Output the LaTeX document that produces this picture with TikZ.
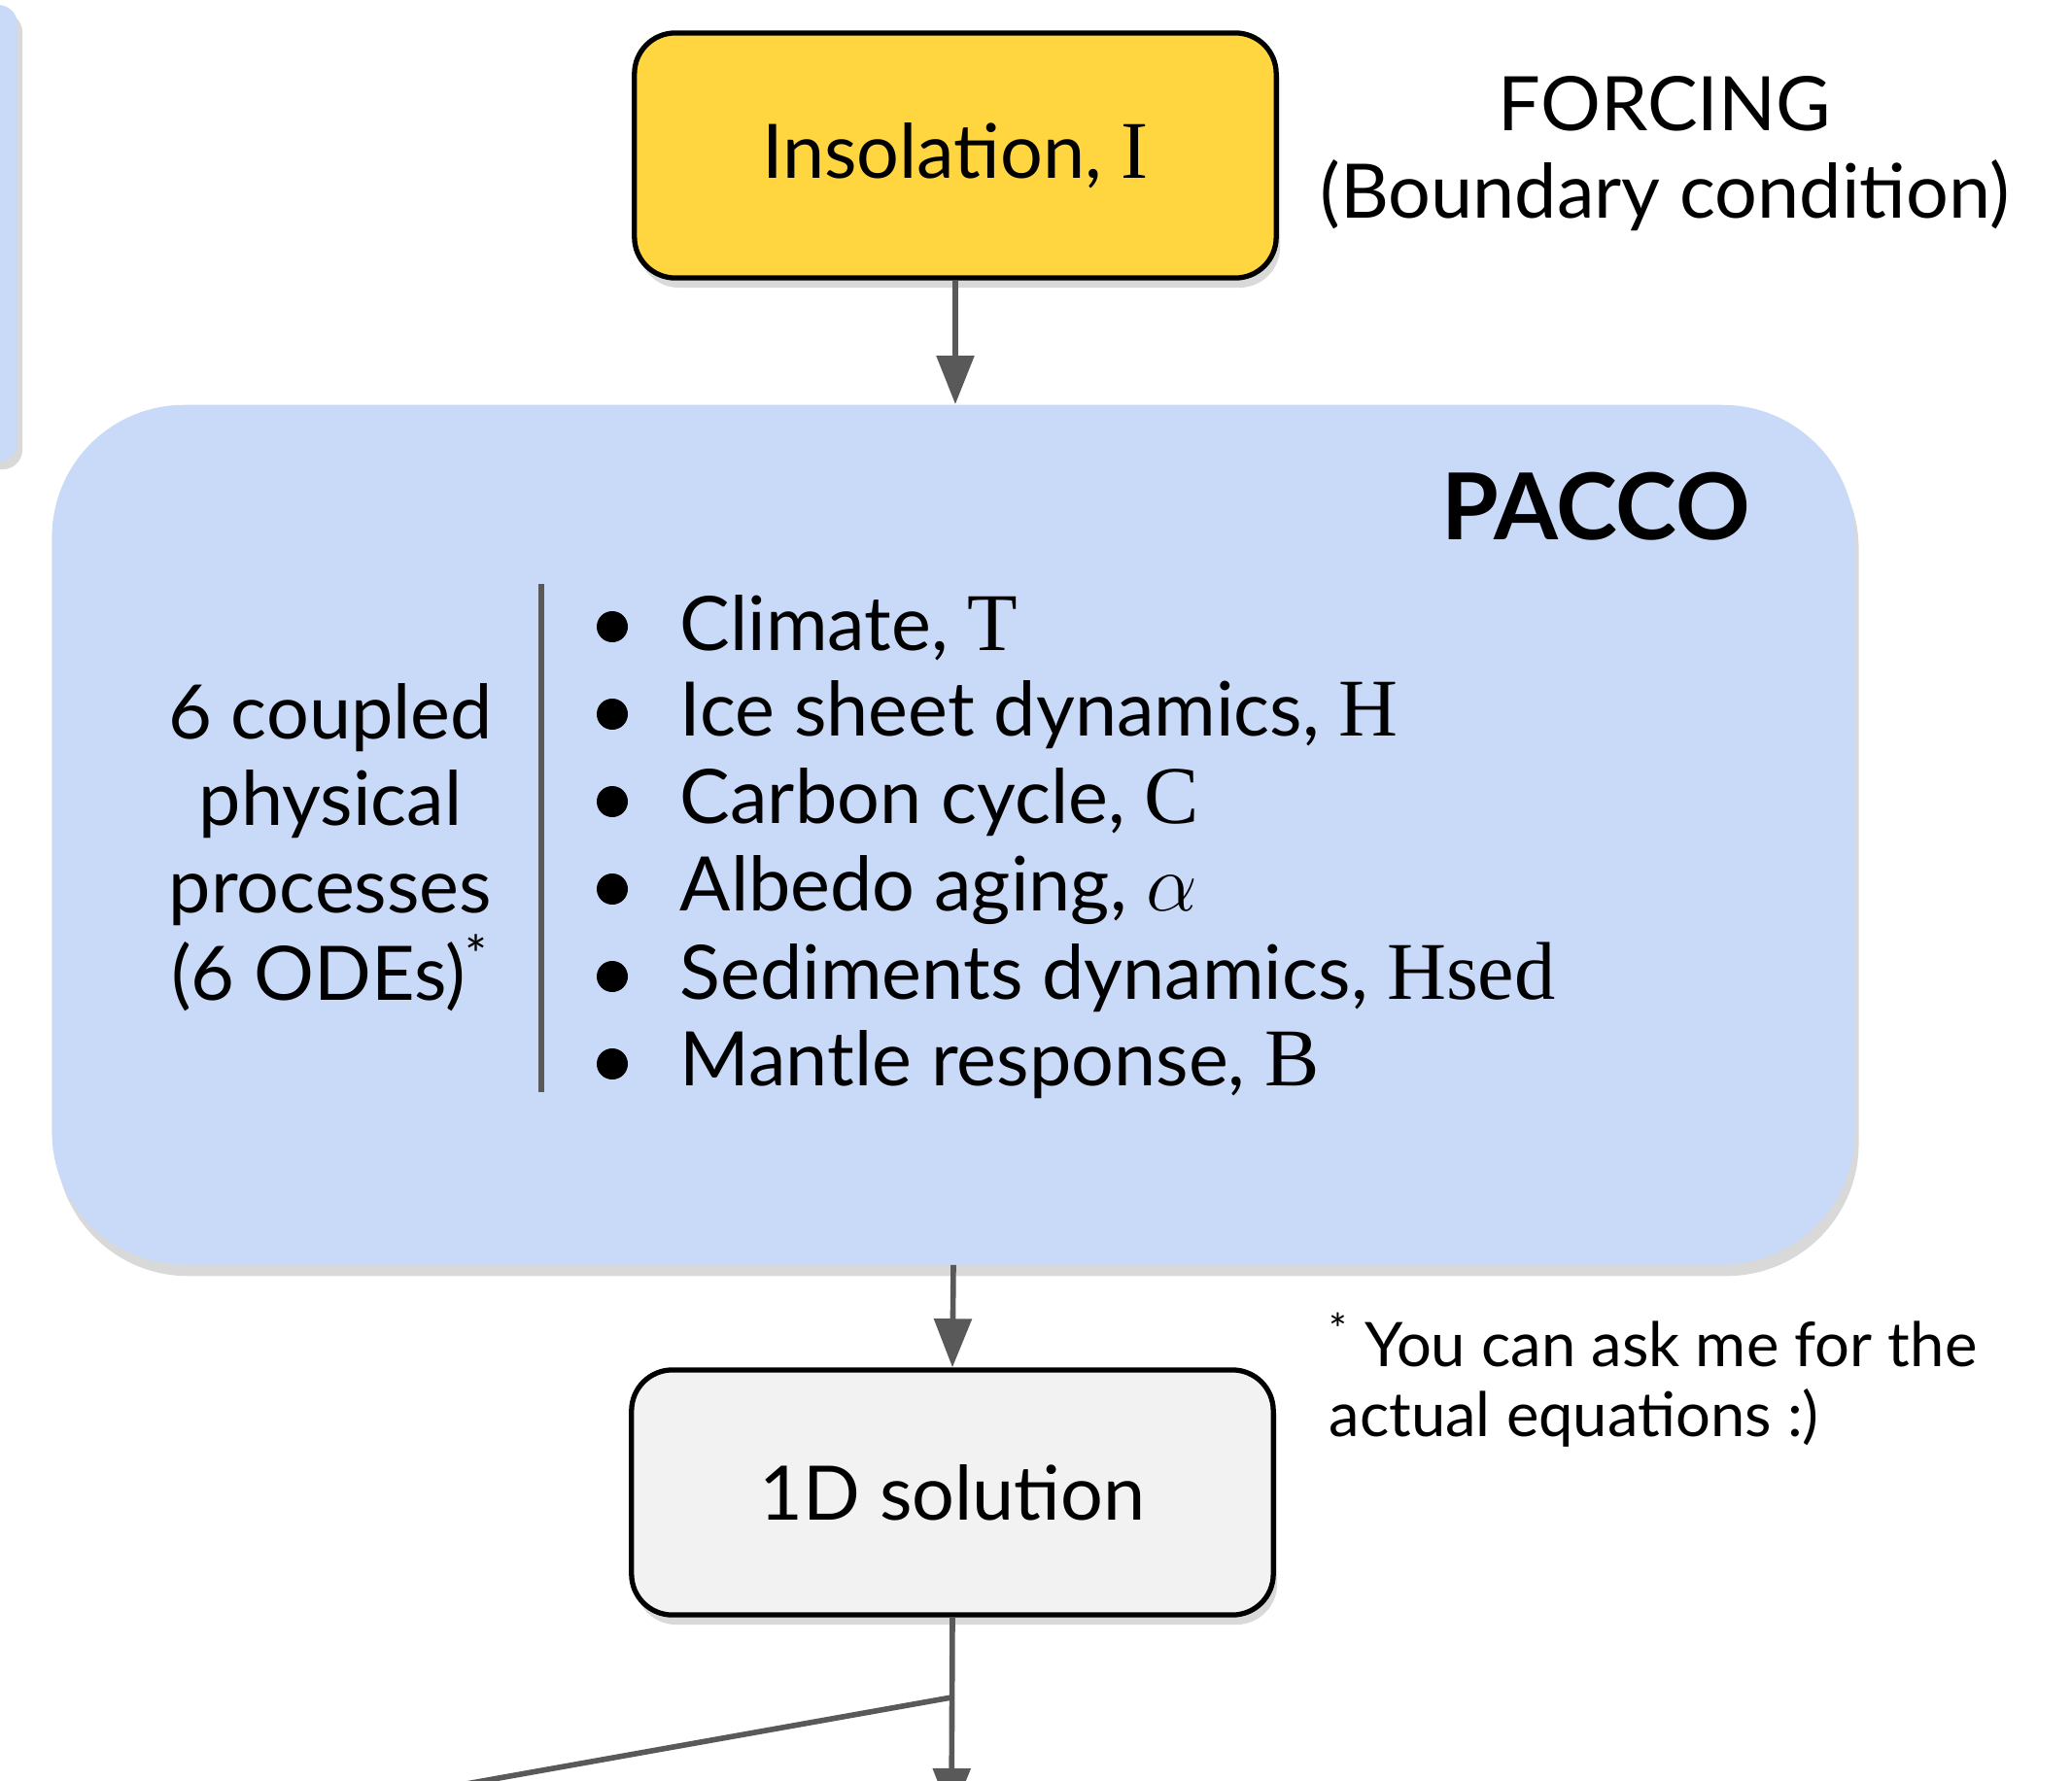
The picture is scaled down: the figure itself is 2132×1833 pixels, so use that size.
\documentclass[tikz,border=0pt]{standalone}
\usepackage{fontspec}
\setmainfont{Lato}
\newfontfamily\varfont{Liberation Serif}
\usetikzlibrary{arrows.meta,shadows,positioning}

\definecolor{sunyellow}{HTML}{FFD640}
\definecolor{panelblue}{HTML}{C9DAF8}
\definecolor{boxgray}{HTML}{F2F2F2}
\definecolor{linegray}{HTML}{595959}

\newcommand{\mvar}[1]{{\varfont\fontsize{24}{25.5}\selectfont #1}}
\newcommand{\bigtext}{\fontsize{22}{25.5}\selectfont}
\newcommand{\notetext}{\fontsize{18}{20.7}\selectfont}

\tikzset{
  box/.style={draw=black, line width=1.5pt, rounded corners=0.42cm,
    minimum width=6.6cm, minimum height=2.52cm, font=\bigtext,
    drop shadow={shadow xshift=0.4mm, shadow yshift=-1mm, opacity=0.3}},
  flow/.style={draw=linegray, line width=1.6pt, -{Triangle[length=5mm,width=3.8mm]}},
}

\begin{document}
\begin{tikzpicture}[x=0.01cm,y=-0.01cm]
  \useasboundingbox (0,0) rectangle (2132,1833);

  % neighbouring panel, cut off at the left
  \fill[panelblue, rounded corners=0.2cm,
    drop shadow={shadow xshift=0.5mm, shadow yshift=-0.8mm, opacity=0.3}]
    (-60,5) rectangle (18,475);

  \node (insol) [box, fill=sunyellow] at (983,160) {\raisebox{-4pt}{Insolation, \mvar{I}}};
  \node (forcing) [align=center, font=\bigtext] at (1713,158) {FORCING\\(Boundary condition)};

  \node (pacco) [fill=panelblue, rounded corners=1.36cm, minimum width=18.54cm,
    minimum height=8.84cm,
    drop shadow={shadow xshift=0.4mm, shadow yshift=-1.2mm, opacity=0.3}] at (981,859) {};
  \node (paccolabel) [font=\fontsize{27}{30}\selectfont\bfseries] at (1642,521) {PACCO};

  \node (odes) [align=center, font=\bigtext] at (340,872)
    {6 coupled\\physical\\processes\\(6 ODEs)\textsuperscript{*}};
  \coordinate (septop) at (557,601);
  \coordinate (sepbot) at (557,1124);
  \draw[linegray, line width=1.5pt] (septop) -- (sepbot);

  \foreach \i/\t in {1/{Climate, \mvar{T}},
                     2/{Ice sheet dynamics, \mvar{H}},
                     3/{Carbon cycle, \mvar{C}},
                     4/{Albedo aging, \scalebox{1.15}{$\alpha$}},
                     5/{Sediments dynamics, \mvar{Hsed}},
                     6/{Mantle response, \mvar{B}}} {
    \fill (630,{645+90*(\i-1)}) circle (16);
    \node (item\i) [anchor=west, font=\bigtext, inner sep=0pt] at (699,{646+90*(\i-1)}) {\t};
  }

  \node (sol) [box, fill=boxgray] at (980,1536) {1D solution};
  \node (note) [anchor=north west, align=left, font=\notetext, inner sep=0pt] at (1367,1350)
    {\textsuperscript{*} You can ask me for the\\actual equations :)};

  \coordinate (split) at (979,1747);
  \coordinate (down) at (979,1870);
  \coordinate (left) at (300,1868);

  \draw[flow] (insol.south) -- (insol.south |- pacco.north);
  \draw[flow] (pacco.south) -- (sol.north);
  \draw[flow] (sol.south) -- (down);
  \draw[linegray, line width=1.6pt] (split) -- (left);
\end{tikzpicture}
\end{document}
